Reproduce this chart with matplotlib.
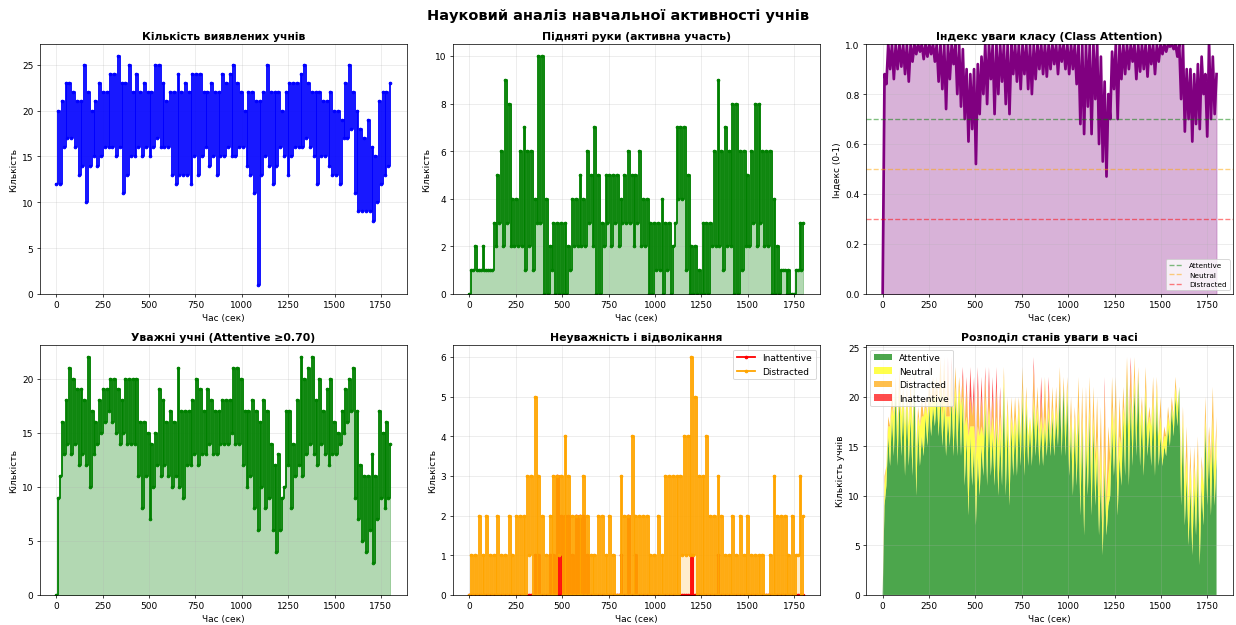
import numpy as np
import matplotlib
matplotlib.use("Agg")
import matplotlib.pyplot as plt

# values read per 20-second window: low and high of each window
detected_lo = [12, 12, 16, 17, 17, 16, 13, 14, 10, 14, 15, 14, 15, 16, 16, 16, 15, 16, 11, 13,
               15, 15, 16, 15, 16, 15, 16, 17, 16, 16, 16, 13, 12, 13, 13, 13, 12, 15, 13, 15,
               16, 14, 15, 13, 15, 15, 16, 15, 15, 16, 16, 14, 13, 11, 1, 13, 15, 14, 12, 14,
               16, 15, 13, 15, 16, 16, 16, 17, 16, 15, 12, 15, 15, 14, 13, 13, 12, 17, 17, 18,
               11, 9, 9, 9, 9, 8, 10, 12, 13, 14]
detected_hi = [20, 21, 23, 23, 22, 21, 21, 25, 22, 20, 21, 23, 22, 22, 24, 24, 26, 23, 23, 25,
               22, 24, 22, 23, 22, 22, 25, 25, 23, 21, 22, 22, 24, 22, 23, 22, 24, 24, 24, 22,
               22, 23, 22, 22, 24, 23, 24, 25, 23, 22, 20, 22, 22, 21, 21, 22, 25, 22, 22, 22,
               20, 22, 23, 23, 23, 24, 25, 23, 22, 22, 22, 21, 21, 22, 20, 20, 19, 23, 25, 22,
               20, 18, 17, 19, 16, 15, 21, 22, 22, 23]

hands_lo = [0, 1, 1, 1, 1, 1, 1, 2, 3, 2, 3, 2, 2, 2, 2, 1, 2, 1, 3, 3,
            0, 0, 1, 0, 0, 0, 0, 1, 2, 2, 2, 2, 3, 2, 0, 0, 2, 3, 2, 3,
            2, 3, 3, 3, 2, 3, 2, 2, 0, 0, 1, 1, 0, 1, 0, 3, 4, 4, 1, 0,
            0, 0, 0, 0, 0, 2, 2, 2, 1, 2, 2, 0, 0, 1, 2, 2, 3, 2, 3, 2,
            2, 0, 0, 0, 1, 0, 0, 0, 1, 1]
hands_hi = [1, 2, 1, 2, 1, 1, 3, 5, 6, 9, 8, 4, 4, 6, 7, 6, 6, 4, 10, 10,
            4, 2, 3, 3, 3, 3, 2, 4, 4, 5, 4, 6, 5, 7, 5, 3, 5, 5, 5, 5,
            4, 5, 6, 5, 5, 6, 4, 4, 3, 3, 3, 4, 3, 3, 2, 7, 7, 7, 5, 2,
            2, 1, 3, 3, 3, 6, 9, 6, 7, 6, 8, 8, 6, 6, 5, 6, 8, 8, 6, 6,
            6, 4, 2, 1, 1, 1, 0, 1, 3, 3]

attention_lo = [0.0, 0.84, 0.90, 0.86, 0.90, 0.91, 0.88, 0.85, 0.93, 0.96,
                0.97, 0.94, 0.95, 0.96, 0.93, 0.85, 0.82, 0.74, 0.86, 0.92,
                0.80, 0.75, 0.70, 0.61, 0.66, 0.52, 0.72, 0.80, 0.76, 0.86,
                0.72, 0.80, 0.85, 0.76, 0.72, 0.88, 0.85, 0.82, 0.88, 0.82,
                0.80, 0.86, 0.90, 0.88, 0.87, 0.90, 0.92, 0.88, 0.93, 0.90,
                0.88, 0.90, 0.84, 0.68, 0.64, 0.75, 0.64, 0.78, 0.60, 0.53,
                0.47, 0.70, 0.82, 0.70, 0.86, 0.88, 0.90, 0.93, 0.86, 0.89,
                0.90, 0.87, 0.92, 0.88, 0.93, 0.96, 0.97, 0.99, 0.98, 0.95,
                0.78, 0.65, 0.70, 0.61, 0.68, 0.66, 0.80, 0.63, 0.70, 0.72]
attention_hi = [0.88, 1.0, 1.0, 1.0, 1.0, 1.0, 1.0, 1.0, 1.0, 1.0,
                1.0, 1.0, 1.0, 1.0, 1.0, 1.0, 1.0, 1.0, 1.0, 1.0,
                1.0, 0.98, 0.90, 0.88, 0.90, 0.92, 0.95, 1.0, 1.0, 1.0,
                1.0, 1.0, 1.0, 1.0, 1.0, 1.0, 1.0, 1.0, 1.0, 1.0,
                1.0, 1.0, 1.0, 1.0, 1.0, 1.0, 1.0, 1.0, 1.0, 1.0,
                1.0, 1.0, 1.0, 1.0, 1.0, 1.0, 1.0, 1.0, 0.95, 0.85,
                0.80, 0.97, 1.0, 1.0, 1.0, 1.0, 1.0, 1.0, 1.0, 1.0,
                1.0, 1.0, 1.0, 1.0, 1.0, 1.0, 1.0, 1.0, 1.0, 1.0,
                1.0, 0.90, 0.90, 0.88, 0.92, 0.95, 0.88, 1.0, 0.95, 0.88]

attentive_lo = [0, 11, 13, 14, 13, 14, 12, 13, 12, 10, 13, 14, 15, 16, 17, 16, 15, 14, 15, 14,
                14, 14, 11, 8, 11, 7, 10, 12, 11, 12, 11, 10, 11, 10, 9, 12, 12, 13, 12, 13,
                13, 14, 13, 13, 14, 14, 14, 15, 14, 14, 12, 10, 11, 8, 6, 10, 8, 9, 6, 4,
                6, 10, 12, 8, 11, 12, 11, 13, 14, 13, 12, 14, 13, 12, 13, 13, 14, 15, 16, 17,
                9, 7, 5, 4, 6, 3, 7, 9, 8, 9]
attentive_hi = [9, 16, 18, 21, 20, 19, 19, 18, 22, 17, 16, 18, 19, 19, 20, 20, 19, 18, 20, 20,
                20, 20, 16, 16, 15, 14, 15, 19, 18, 16, 17, 16, 21, 17, 17, 17, 18, 20, 19, 17,
                19, 18, 17, 17, 18, 18, 18, 21, 21, 20, 17, 17, 18, 17, 16, 18, 17, 14, 12, 13,
                9, 17, 17, 14, 18, 22, 20, 21, 22, 18, 20, 17, 19, 20, 16, 15, 17, 19, 20, 21,
                17, 12, 11, 11, 13, 11, 17, 15, 16, 14]

neutral_lo = [0, 2, 4, 4, 4, 4, 5, 4, 5, 5, 4, 4, 3, 3, 3, 3, 3, 4, 3, 4,
              4, 5, 6, 8, 6, 7, 6, 4, 5, 4, 4, 5, 4, 5, 5, 4, 4, 3, 4, 3,
              3, 3, 3, 3, 2, 2, 2, 2, 2, 3, 3, 4, 4, 5, 4, 4, 5, 4, 4, 3,
              3, 4, 4, 5, 4, 5, 6, 4, 3, 4, 4, 3, 4, 4, 3, 2, 2, 2, 2, 2,
              4, 4, 4, 4, 4, 4, 4, 4, 5, 4]
neutral_hi = [2, 1, 1, 0, 1, 1, 1, 2, 0, 1, 2, 1, 1, 1, 0, 1, 2, 0, 0, 1,
              1, 0, 2, 1, 2, 3, 2, 1, 1, 2, 1, 2, 1, 2, 1, 1, 1, 1, 1, 1,
              1, 1, 1, 1, 1, 1, 1, 0, 0, 1, 1, 1, 1, 1, 2, 1, 1, 2, 3, 2,
              3, 2, 2, 2, 1, 0, 0, 1, 0, 1, 1, 1, 1, 1, 2, 1, 1, 0, 1, 0,
              1, 2, 2, 2, 1, 2, 1, 1, 2, 2]

distracted_lo = [0, 0, 0, 0, 0, 0, 0, 0, 0, 0, 0, 0, 0, 0, 0, 0, 1, 0, 0, 0,
                 0, 0, 0, 0, 1, 0, 0, 0, 0, 0, 0, 0, 0, 0, 0, 0, 0, 0, 0, 0,
                 0, 0, 0, 0, 0, 0, 0, 0, 0, 0, 0, 0, 0, 0, 0, 0, 0, 1, 1, 1,
                 1, 0, 0, 0, 0, 0, 0, 0, 0, 0, 0, 0, 0, 0, 0, 0, 0, 0, 0, 0,
                 0, 0, 0, 0, 0, 0, 0, 0, 1, 0]
distracted_hi = [1, 1, 2, 1, 2, 1, 1, 2, 1, 1, 2, 1, 2, 2, 2, 3, 3, 5, 3, 2,
                 1, 2, 3, 3, 3, 4, 3, 2, 2, 2, 3, 2, 1, 1, 2, 2, 1, 2, 1, 0,
                 3, 2, 2, 4, 2, 2, 2, 2, 1, 1, 2, 1, 3, 3, 3, 3, 3, 4, 4, 6,
                 5, 3, 3, 4, 2, 2, 3, 2, 1, 1, 2, 1, 2, 1, 2, 1, 1, 1, 1, 0,
                 1, 3, 2, 2, 2, 1, 2, 1, 3, 2]

inattentive_lo = [0] * 90
inattentive_hi = [0, 0, 0, 0, 0, 0, 0, 0, 0, 0, 0, 0, 0, 0, 0, 0, 0, 1, 1, 0,
                  0, 1, 1, 3, 2, 2, 2, 1, 2, 2, 2, 1, 0, 0, 0, 0, 0, 0, 0, 0,
                  1, 0, 2, 0, 1, 0, 0, 0, 0, 0, 0, 0, 0, 0, 0, 0, 0, 0, 0, 1,
                  0, 0, 0, 0, 0, 0, 1, 0, 0, 0, 0, 0, 0, 0, 0, 0, 0, 0, 0, 0,
                  0, 0, 0, 0, 0, 0, 0, 0, 0, 0]


def interleave(lo, hi):
    return np.column_stack([lo, hi]).ravel()


t = np.linspace(0, 1800, 180)
detected = interleave(detected_lo, detected_hi)
hands = interleave(hands_lo, hands_hi)
attention = interleave(attention_lo, attention_hi)
attentive = interleave(attentive_lo, attentive_hi)
neutral = interleave(neutral_lo, neutral_hi)
distracted = interleave(distracted_lo, distracted_hi)
inattentive = interleave(inattentive_lo, inattentive_hi)

fig, axes = plt.subplots(2, 3, figsize=(19.03, 9.63), dpi=65)
fig.subplots_adjust(left=0.032, right=0.997, top=0.928, bottom=0.048,
                    wspace=0.125, hspace=0.205)
fig.suptitle('Науковий аналіз навчальної активності учнів',
             fontsize=16, fontweight='bold', y=0.985)

title_kw = dict(fontsize=12, fontweight='bold')

ax = axes[0, 0]
ax.plot(t, detected, color='blue', marker='o', markersize=3, linewidth=2,
        drawstyle='steps-post')
ax.set_title('Кількість виявлених учнів', **title_kw)
ax.set_xlabel('Час (сек)')
ax.set_ylabel('Кількість')

ax = axes[0, 1]
ax.plot(t, hands, color='green', marker='o', markersize=3, linewidth=2,
        drawstyle='steps-post')
ax.fill_between(t, hands, step='post', color='green', alpha=0.3)
ax.set_title('Підняті руки (активна участь)', **title_kw)
ax.set_xlabel('Час (сек)')
ax.set_ylabel('Кількість')

ax = axes[0, 2]
ax.plot(t, attention, color='purple', linewidth=3)
ax.fill_between(t, attention, color='purple', alpha=0.3)
ax.axhline(0.7, color='green', linestyle='--', linewidth=1.5, alpha=0.5, label='Attentive')
ax.axhline(0.5, color='orange', linestyle='--', linewidth=1.5, alpha=0.5, label='Neutral')
ax.axhline(0.3, color='red', linestyle='--', linewidth=1.5, alpha=0.5, label='Distracted')
ax.set_title('Індекс уваги класу (Class Attention)', **title_kw)
ax.set_xlabel('Час (сек)')
ax.set_ylabel('Індекс (0-1)')
ax.legend(loc='lower right', fontsize=8)

ax = axes[1, 0]
ax.plot(t, attentive, color='green', marker='o', markersize=3, linewidth=2,
        drawstyle='steps-post')
ax.fill_between(t, attentive, step='post', color='green', alpha=0.3)
ax.set_title('Уважні учні (Attentive ≥0.70)', **title_kw)
ax.set_xlabel('Час (сек)')
ax.set_ylabel('Кількість')

ax = axes[1, 1]
ax.plot(t, inattentive, color='red', marker='o', markersize=3, linewidth=2,
        drawstyle='steps-post', label='Inattentive')
ax.fill_between(t, inattentive, step='post', color='red', alpha=0.2)
ax.plot(t, distracted, color='orange', marker='o', markersize=3, linewidth=2,
        drawstyle='steps-post', label='Distracted')
ax.fill_between(t, distracted, step='post', color='orange', alpha=0.2)
ax.set_title('Неуважність і відволікання', **title_kw)
ax.set_xlabel('Час (сек)')
ax.set_ylabel('Кількість')
ax.legend(loc='upper right')

ax = axes[1, 2]
ax.stackplot(t, attentive, neutral, distracted, inattentive,
             labels=['Attentive', 'Neutral', 'Distracted', 'Inattentive'],
             colors=['green', 'yellow', 'orange', 'red'], alpha=0.7)
ax.set_title('Розподіл станів уваги в часі', **title_kw)
ax.set_xlabel('Час (сек)')
ax.set_ylabel('Кількість учнів')
ax.legend(loc='upper left')

for ax in axes.flat:
    ax.grid(True, alpha=0.3)
    ax.set_ylim(bottom=0)
axes[0, 2].set_ylim(0, 1)

plt.savefig('out.png', dpi=65)
